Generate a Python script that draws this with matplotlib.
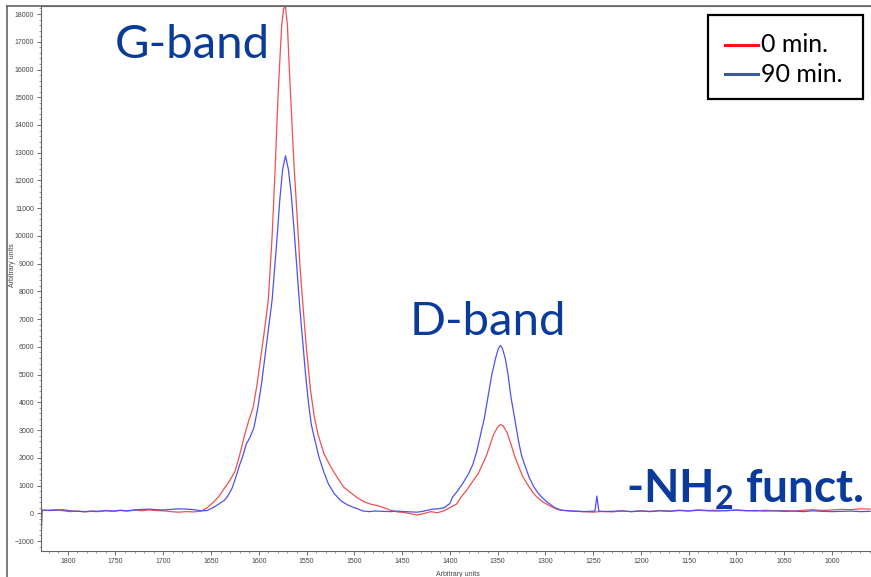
import matplotlib
matplotlib.use("Agg")
import matplotlib.pyplot as plt
from matplotlib.lines import Line2D
from matplotlib.patches import Rectangle
from matplotlib.ticker import MultipleLocator

plt.rcParams['mathtext.fontset'] = 'custom'
plt.rcParams['mathtext.rm'] = 'Lato:bold'
plt.rcParams['mathtext.bf'] = 'Lato:bold'

series_names = ["0 min.", "90 min."]

wn_0 = [1828, 1827, 1820, 1812, 1805, 1798, 1790, 1782, 1775, 1768, 1760, 1752, 1745, 1738,
        1730, 1722, 1715, 1708, 1700, 1692, 1684, 1676, 1668, 1660, 1654, 1648, 1642, 1636,
        1630, 1625, 1620, 1615, 1610, 1606, 1602, 1598, 1594, 1590, 1586, 1583, 1580, 1578,
        1576, 1574, 1572, 1570, 1568, 1566, 1563, 1560, 1557, 1554, 1550, 1546, 1542, 1538,
        1532, 1525, 1518, 1511, 1504, 1497, 1490, 1483, 1476, 1469, 1462, 1455, 1448, 1441,
        1434, 1427, 1420, 1413, 1406, 1400, 1393, 1388, 1382, 1376, 1370, 1366, 1362, 1358,
        1354, 1350, 1347, 1344, 1340, 1336, 1332, 1329, 1324, 1318, 1313, 1309, 1303, 1296,
        1287, 1280, 1270, 1260, 1250, 1240, 1230, 1220, 1210, 1200, 1190, 1180, 1170, 1160,
        1150, 1140, 1130, 1120, 1110, 1100, 1090, 1080, 1070, 1060, 1050, 1040, 1030, 1020,
        1010, 1000, 990, 980, 970, 960]
int_0 = [-1100, 100, 110, 130, 90, 60, 80, 50, 70, 60, 90, 70, 100, 80,
         110, 90, 120, 100, 90, 60, 40, 60, 50, 80, 200, 380, 600, 900,
         1200, 1500, 2100, 2800, 3400, 3800, 4600, 5600, 6600, 7700, 10000, 12300, 14900, 16300,
         17600, 18200, 18260, 17600, 16000, 14600, 12500, 10800, 9000, 7600, 5900, 4500, 3500, 2850,
         2170, 1700, 1300, 940, 750, 560, 420, 330, 280, 200, 110, 50, 30, -20,
         -60, -10, 60, 20, 90, 200, 330, 590, 850, 1150, 1450, 1750, 2050, 2450,
         2850, 3100, 3200, 3150, 2900, 2500, 2050, 1790, 1350, 1000, 750, 590, 420, 280,
         130, 100, 70, 60, 40, 70, 50, 80, 60, 90, 70, 100, 80, 110,
         90, 120, 100, 110, 90, 120, 100, 80, 110, 90, 100, 80, 110, 130,
         100, 120, 140, 130, 160, 150]

wn_90 = [1828, 1827, 1820, 1812, 1805, 1798, 1790, 1782, 1775, 1768, 1760, 1752, 1745, 1738,
         1730, 1722, 1715, 1708, 1700, 1692, 1684, 1676, 1668, 1660, 1654, 1648, 1642, 1636,
         1633, 1628, 1624, 1620, 1617, 1613, 1609, 1605, 1601, 1597, 1593, 1589, 1586, 1583,
         1581, 1578, 1575, 1572, 1569, 1566, 1563, 1560, 1557, 1554, 1551, 1548, 1545, 1541,
         1537, 1532, 1527, 1521, 1514, 1507, 1500, 1497, 1492, 1485, 1478, 1470, 1462, 1455,
         1448, 1441, 1434, 1427, 1423, 1418, 1412, 1406, 1400, 1397, 1392, 1386, 1380, 1376,
         1372, 1368, 1364, 1360, 1356, 1352, 1349, 1347, 1345, 1342, 1339, 1336, 1332, 1328,
         1325, 1322, 1317, 1312, 1308, 1304, 1298, 1290, 1283, 1275, 1268, 1260, 1253, 1248,
         1246, 1244, 1240, 1230, 1220, 1210, 1200, 1190, 1180, 1170, 1160, 1150, 1140, 1130,
         1120, 1110, 1100, 1090, 1080, 1070, 1060, 1050, 1040, 1030, 1020, 1010, 1000, 990,
         980, 970, 960]
int_90 = [-1000, 120, 100, 110, 130, 90, 70, 60, 80, 70, 100, 80, 110, 90,
          120, 140, 150, 130, 120, 140, 160, 150, 130, 90, 100, 200, 330, 470,
          590, 900, 1300, 1750, 2030, 2500, 2750, 3100, 3800, 4700, 5800, 6900, 7700, 9000,
          9860, 11300, 12400, 12890, 12400, 11500, 10200, 8800, 7400, 6200, 5000, 4000, 3200, 2600,
          2030, 1500, 1050, 710, 450, 300, 200, 170, 90, 60, 80, 70, 60, 80,
          60, 50, 40, 80, 110, 150, 160, 200, 350, 590, 800, 1100, 1450, 1750,
          2200, 2800, 3400, 4200, 5000, 5600, 5950, 6050, 5950, 5600, 5000, 4200, 3400, 2600,
          2100, 1790, 1300, 950, 750, 590, 400, 200, 110, 90, 80, 60, 70, 80,
          620, 80, 60, 70, 90, 60, 80, 60, 90, 70, 100, 80, 110, 90,
          80, 100, 110, 90, 100, 80, 90, 70, 80, 60, 90, 70, 60, 70,
          80, 60, 70]

W, H = 871, 577
fig = plt.figure(figsize=(W / 100, H / 100), dpi=100)
ax = fig.add_axes([41 / W, 1 - 551 / H, 1 - 41 / W, (551 - 6) / H])

ax.plot(wn_0, int_0, color='#f05050', lw=0.9)
ax.plot(wn_90, int_90, color='#5050f0', lw=0.9)

ax.set_xlim(1828, 959)
ax.set_ylim(-1360, 18290)

ax.xaxis.set_major_locator(MultipleLocator(50))
ax.xaxis.set_minor_locator(MultipleLocator(10))
ax.yaxis.set_major_locator(MultipleLocator(1000))
ax.yaxis.set_minor_locator(MultipleLocator(200))
ax.tick_params(which='major', length=3, width=0.6, color='#555555', labelsize=5,
               labelcolor='#444444', direction='out', pad=2)
ax.tick_params(which='minor', length=1.5, width=0.5, color='#777777', direction='out')
for lbl in ax.get_xticklabels() + ax.get_yticklabels():
    lbl.set_family('Liberation Sans')

for s in ['right']:
    ax.spines[s].set_visible(False)
for s in ['left', 'bottom', 'top']:
    ax.spines[s].set_color('#666666')
    ax.spines[s].set_linewidth(0.8)

# frame of the screenshot
fig.add_artist(Line2D([7 / W, 7 / W], [0, 1 - 6 / H], color='#666666', lw=1.2))
fig.add_artist(Line2D([7 / W, 1], [1 - 6 / H, 1 - 6 / H], color='#666666', lw=1.2))

# axis labels
fig.text(13 / W, 1 - 265 / H, 'Arbitrary units', rotation=90, ha='center', va='center',
         fontsize=5, color='#444444', family='Liberation Sans')
fig.text(458 / W, 1 - 574 / H, 'Arbitrary units', ha='center', va='center',
         fontsize=5, color='#444444', family='Liberation Sans')

# annotations
blue_txt = '#0a3a9a'
fig.text(192 / W, 1 - 45 / H, 'G-band', ha='center', va='center', fontsize=34,
         color=blue_txt, family='Lato')
fig.text(488 / W, 1 - 322 / H, 'D-band', ha='center', va='center', fontsize=34,
         color=blue_txt, family='Lato')
fig.text(745 / W, 1 - 490 / H, r'-NH$_{2}$ funct.', ha='center', va='center', fontsize=33,
         color=blue_txt, family='Lato', fontweight='bold')

# legend (boxed)
fig.add_artist(Rectangle((708 / W, 1 - 99 / H), 155 / W, 84 / H, fill=False,
                         ec='black', lw=1.6, transform=fig.transFigure))
leg_colors = ['#ff1010', '#3d5a99']
leg_y = [45, 74]
for name, c, yy in zip(series_names, leg_colors, leg_y):
    fig.add_artist(Line2D([725 / W, 758 / W], [1 - yy / H, 1 - yy / H], color=c, lw=2.2))
    fig.text(761 / W, 1 - yy / H, name, ha='left', va='center', fontsize=18,
             color='black', family='Lato')

fig.savefig('out.png', dpi=100)
